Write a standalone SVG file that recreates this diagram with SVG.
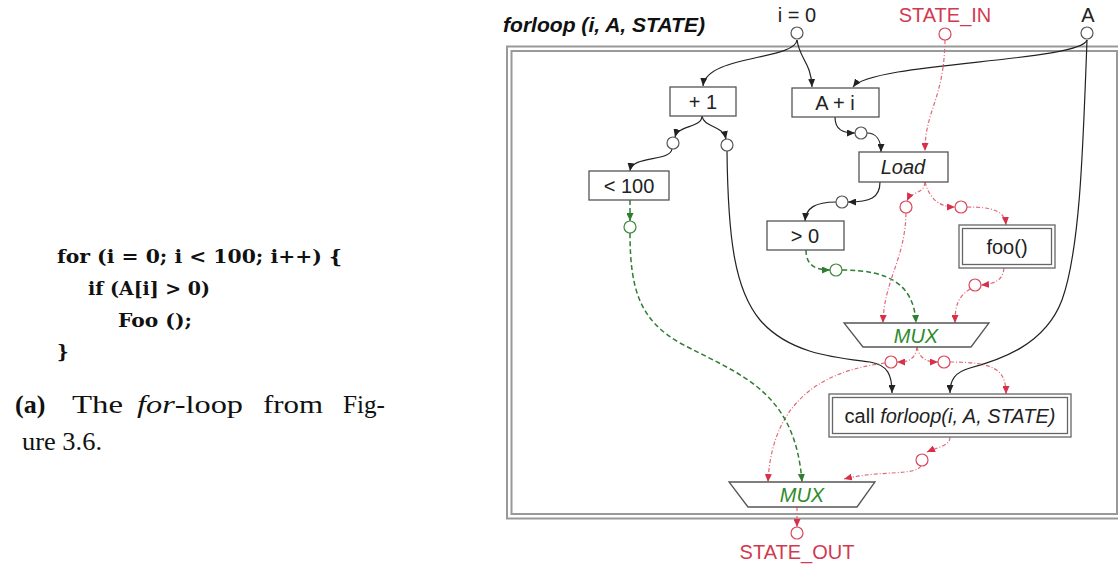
<svg xmlns="http://www.w3.org/2000/svg" width="1118" height="566" viewBox="0 0 1118 566">
<style>
.bg{fill:#fff}
.box{fill:#fff;stroke:#555;stroke-width:1.3}
.dbox{fill:#fff;stroke:#666;stroke-width:1.3}
.lbl{font-family:"Liberation Sans",Arial,sans-serif;font-size:20px;fill:#222;text-anchor:middle}
.it{font-style:italic}
.grn{fill:#2e8b2e}
.red{fill:#d23a50}
.port{fill:#fff;stroke:#555;stroke-width:1.2}
.rport{fill:#fff;stroke:#d9475a;stroke-width:1.2}
.gport{fill:#fff;stroke:#3a8a3a;stroke-width:1.2}
.e{fill:none;stroke:#222;stroke-width:1.2}
.r{fill:none;stroke:#e0697a;stroke-width:1.2;stroke-dasharray:4 2 1 2}
.g{fill:none;stroke:#2f7d32;stroke-width:1.5;stroke-dasharray:5 3}
.frame{fill:none;stroke:#999;stroke-width:2}
.code{font-family:"DejaVu Serif",serif;font-weight:bold;font-size:18px;fill:#111}
.cap{font-family:"Liberation Serif","Times New Roman",serif;font-size:26px;fill:#111}
</style>
<defs>
<marker id="ak" markerWidth="8" markerHeight="7" refX="8" refY="3.5" orient="auto" markerUnits="userSpaceOnUse"><path d="M0,0 L8,3.5 L0,7 z" fill="#222"/></marker>
<marker id="ar" markerWidth="8" markerHeight="7" refX="8" refY="3.5" orient="auto" markerUnits="userSpaceOnUse"><path d="M0,0 L8,3.5 L0,7 z" fill="#d9304a"/></marker>
<marker id="ag" markerWidth="8" markerHeight="7" refX="8" refY="3.5" orient="auto" markerUnits="userSpaceOnUse"><path d="M0,0 L8,3.5 L0,7 z" fill="#2f7d32"/></marker>
</defs>
<rect class="bg" x="0" y="0" width="1118" height="566"/>

<g id="code">
<text class="code" x="57" y="263" textLength="285" lengthAdjust="spacingAndGlyphs">for (i = 0; i &lt; 100; i++) {</text>
<text class="code" x="88" y="295" textLength="122" lengthAdjust="spacingAndGlyphs">if (A[i] &gt; 0)</text>
<text class="code" x="118" y="327" textLength="74" lengthAdjust="spacingAndGlyphs">Foo ();</text>
<text class="code" x="57" y="358">}</text>
</g>
<g id="caption">
<text class="cap" x="15" y="413" font-weight="bold">(a)</text>
<text class="cap" x="72" y="413" textLength="51" lengthAdjust="spacingAndGlyphs">The</text>
<text class="cap" x="137" y="413" textLength="106" lengthAdjust="spacingAndGlyphs"><tspan font-style="italic">for</tspan>-loop</text>
<text class="cap" x="263" y="413" textLength="60" lengthAdjust="spacingAndGlyphs">from</text>
<text class="cap" x="343" y="413" textLength="42" lengthAdjust="spacingAndGlyphs">Fig-</text>
<text class="cap" x="22" y="450" textLength="80" lengthAdjust="spacingAndGlyphs">ure 3.6.</text>
</g>

<g id="frame">
<rect class="frame" x="507" y="46.5" width="620" height="472"/>
<rect class="frame" x="511.5" y="51" width="605.5" height="463"/>
<text x="503" y="32" font-family="Liberation Sans,Arial,sans-serif" font-size="20" font-weight="bold" font-style="italic" fill="#111" textLength="202" lengthAdjust="spacingAndGlyphs">forloop (i, A, STATE)</text>
</g>

<g id="connectors">
<path class="e" d="M797,40 C795,60 706,55 703,86" marker-end="url(#ak)"/>
<path class="e" d="M797,40 C800,60 811,62 812,87" marker-end="url(#ak)"/>
<path class="e" d="M1087,40 C1080,62 872,62 853,87" marker-end="url(#ak)"/>
<path class="e" d="M1087,40 C1083,150 1080,250 1062,300 C1045,345 1000,360 970,368 C955,372 950,380 950,393" marker-end="url(#ak)"/>
<path class="e" d="M702,116 C702,128 678,125 675,137" marker-end="url(#ak)"/>
<path class="e" d="M702,116 C704,128 723,125 726,139" marker-end="url(#ak)"/>
<path class="e" d="M672,149 C670,162 632,155 630,171" marker-end="url(#ak)"/>
<path class="e" d="M727,151 C728,240 735,290 760,320 C790,355 840,358 870,362 C888,365 892,375 892,393" marker-end="url(#ak)"/>
<path class="e" d="M835,117 C835,130 843,133 855,133" marker-end="url(#ak)"/>
<path class="e" d="M867,133 C876,133 881,140 881,152" marker-end="url(#ak)"/>
<path class="e" d="M880,182 C880,198 870,202 848,202" marker-end="url(#ak)"/>
<path class="e" d="M836,202 C815,202 806,208 805,221" marker-end="url(#ak)"/>

<path class="r" d="M945,40 C944,100 925,110 925,151" marker-end="url(#ar)"/>
<path class="r" d="M925,182 C924,195 912,190 907,201" marker-end="url(#ar)"/>
<path class="r" d="M925,182 C930,200 940,207 955,207" marker-end="url(#ar)"/>
<path class="r" d="M967,207 C995,207 1005,212 1006,225" marker-end="url(#ar)"/>
<path class="r" d="M1004,268 C1003,280 995,284 981,285" marker-end="url(#ar)"/>
<path class="r" d="M970,289 C958,297 955,305 955,323" marker-end="url(#ar)"/>
<path class="r" d="M906,213 C905,260 884,280 883,323" marker-end="url(#ar)"/>
<path class="r" d="M917,347 C915,360 908,362 897,362" marker-end="url(#ar)"/>
<path class="r" d="M917,347 C920,360 928,362 938,362" marker-end="url(#ar)"/>
<path class="r" d="M885,363 C830,370 772,395 768,482" marker-end="url(#ar)"/>
<path class="r" d="M950,362 C995,362 1006,370 1006,394" marker-end="url(#ar)"/>
<path class="r" d="M950,437 C950,446 938,447 927,452" marker-end="url(#ar)"/>
<path class="r" d="M921,466 C915,476 880,470 844,479" marker-end="url(#ar)"/>
<path class="r" d="M797,507 L797,527" marker-end="url(#ar)"/>

<path class="g" d="M630,200 L630,221" marker-end="url(#ag)"/>
<path class="g" d="M630,233 C630,290 640,320 680,343 C740,375 795,390 802,482" marker-end="url(#ag)"/>
<path class="g" d="M806,250 C806,265 815,270 830,270" marker-end="url(#ag)"/>
<path class="g" d="M842,270 C890,270 914,285 916,323" marker-end="url(#ag)"/>
</g>

<g id="port-i0"><text class="lbl" x="797" y="22">i = 0</text><circle class="port" cx="797" cy="33" r="6"/></g>
<g id="port-state-in"><text class="lbl red" x="945" y="22">STATE_IN</text><circle class="rport" cx="945" cy="34" r="6"/></g>
<g id="port-A"><text class="lbl" x="1088" y="22">A</text><circle class="port" cx="1087" cy="33" r="6"/></g>

<g id="n-plus1"><rect class="box" x="670" y="87" width="66" height="29"/><text class="lbl" x="703" y="109">+ 1</text></g>
<g id="n-aplusi"><rect class="box" x="792" y="88" width="87" height="29"/><text class="lbl" x="835" y="110">A + i</text></g>
<g id="n-load"><rect class="box" x="859" y="152" width="89" height="30"/><text class="lbl it" x="903" y="174">Load</text></g>
<g id="n-lt100"><rect class="box" x="589" y="171" width="80" height="29"/><text class="lbl" x="629" y="193">&lt; 100</text></g>
<g id="n-gt0"><rect class="box" x="767" y="221" width="77" height="29"/><text class="lbl" x="805" y="243">&gt; 0</text></g>
<g id="n-foo"><rect class="dbox" x="959" y="225" width="96" height="43"/><rect class="dbox" x="962.5" y="228.5" width="89" height="36"/><text class="lbl" x="1007" y="254">foo()</text></g>
<g id="n-mux1"><polygon class="box" points="844,323 989,323 971,347 863,347"/><text class="lbl it grn" x="916" y="343">MUX</text></g>
<g id="n-call"><rect class="dbox" x="829" y="394" width="242" height="43"/><rect class="dbox" x="832.5" y="397.5" width="235" height="36"/><text class="lbl" x="950" y="423">call <tspan font-style="italic">forloop(i, A, STATE)</tspan></text></g>
<g id="n-mux2"><polygon class="box" points="729,482 875,482 857,507 748,507"/><text class="lbl it grn" x="802" y="502">MUX</text></g>

<g id="ports">
<circle class="port" cx="673" cy="143" r="6"/>
<circle class="port" cx="727" cy="145" r="6"/>
<circle class="port" cx="861" cy="133" r="6"/>
<circle class="port" cx="842" cy="202" r="6"/>
<circle class="gport" cx="630" cy="227" r="6"/>
<circle class="gport" cx="836" cy="270" r="6"/>
<circle class="rport" cx="906" cy="207" r="6"/>
<circle class="rport" cx="961" cy="207" r="6"/>
<circle class="rport" cx="975" cy="285" r="6"/>
<circle class="rport" cx="891" cy="362" r="6"/>
<circle class="rport" cx="944" cy="362" r="6"/>
<circle class="rport" cx="922" cy="460" r="6"/>
</g>
<g id="port-state-out"><circle class="rport" cx="797" cy="533" r="6"/><text class="lbl red" x="797" y="559">STATE_OUT</text></g>
</svg>
